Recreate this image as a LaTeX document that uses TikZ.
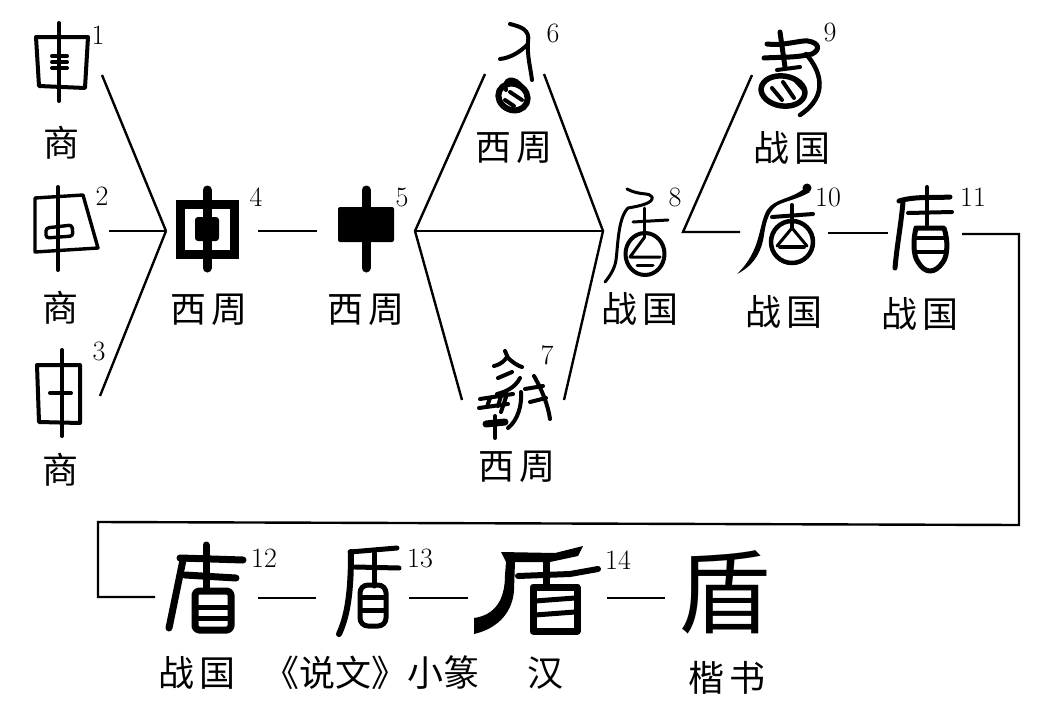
\documentclass[tikz,border=0pt]{standalone}
\usepackage{fontspec}
\setmainfont{Latin Modern Roman}
\newfontfamily\cjk{Noto Sans CJK SC}
\tikzset{
  conn/.style={line width=2.4pt},
  lab/.style={inner sep=0pt,font=\cjk\fontsize{36}{36}\selectfont},
  num/.style={inner sep=0pt,font=\fontsize{28}{28}\selectfont},
  gl/.style={line width=4pt,line cap=round,line join=round},
  gm/.style={line width=5pt,line cap=round,line join=round},
  gb/.style={line width=7pt,line cap=round,line join=round},
  gk/.style={line width=9pt,line cap=round,line join=miter}
}
\begin{document}
\begin{tikzpicture}[x=1pt,y=-1pt]
\useasboundingbox (0,0) rectangle (1042,715);

% connector ends
\coordinate (a1) at (102,75);
\coordinate (a2) at (109,231);
\coordinate (a3) at (100,396);
\coordinate (h1) at (166,231);
\coordinate (a4) at (258,231);
\coordinate (a5) at (317,231);
\coordinate (h2) at (415,231);
\coordinate (a6) at (485,74);
\coordinate (a7) at (462,400);
\coordinate (b6) at (544,74);
\coordinate (b7) at (564,400);
\coordinate (h3) at (603,231);
\coordinate (h4) at (683,232);
\coordinate (b9) at (752,75);
\coordinate (a10) at (740,232);
\coordinate (b10) at (828,233);
\coordinate (a11) at (888,233);
\coordinate (b11) at (962,234);
\coordinate (c1) at (1019,234);
\coordinate (c2) at (1019,525);
\coordinate (c3) at (98,522);
\coordinate (c4) at (98,597);
\coordinate (a12) at (155,597);
\coordinate (b12) at (258,598);
\coordinate (a13) at (316,598);
\coordinate (b13) at (409,598);
\coordinate (a14) at (468,598);
\coordinate (b14) at (607,598);
\coordinate (a15) at (665,598);

\draw[conn] (a1)--(h1);
\draw[conn] (a2)--(h1);
\draw[conn] (a3)--(h1);
\draw[conn] (a4)--(a5);
\draw[conn] (a6)--(h2)--(a7);
\draw[conn] (h2)--(h3);
\draw[conn] (b6)--(h3)--(b7);
\draw[conn] (b9)--(h4)--(a10);
\draw[conn] (b10)--(a11);
\draw[conn] (b11)--(c1)--(c2)--(c3)--(c4)--(a12);
\draw[conn] (b12)--(a13);
\draw[conn] (b13)--(a14);
\draw[conn] (b14)--(a15);

% glyphs 1-3
\draw[gl] (36,37)--(88,37)--(85,88)--(39,86)--cycle;
\draw[gl] (59,23)--(59,101);
\draw[gl] (52,56)--(67,56) (52,62)--(67,62) (52,68)--(67,68);
\draw[gl,line width=3.4pt] (35,198)--(83,195)--(98,248)--(35,252)--cycle;
\draw[gl] (58,187)--(58,270);
\draw[gl,line width=3.4pt,rounded corners=3pt] (46,228)--(72,225)--(73,236)--(46,238)--cycle;
\draw[gl] (37,365)--(80,365)--(80,423)--(39,422)--cycle;
\draw[gl] (62,350)--(62,436);
\draw[gl] (50,393)--(71,393);

% glyphs 4-5
\draw[gk] (180,204)--(234,204)--(234,254)--(180,254)--cycle;
\draw[gk] (207,190)--(207,268);
\fill[rounded corners=3pt] (195,217) rectangle (219,241);
\fill[rounded corners=2pt] (338,207) rectangle (394,242);
\draw[gk] (366,190)--(366,268);

% glyph 6
\draw[gl] (510,24) .. controls (522,27) and (530,30) .. (528,42) .. controls (527,55) and (530,65) .. (532,80);
\draw[gl] (500,59) .. controls (510,58) and (520,52) .. (527,45);
\draw[gl,line width=6pt,rotate around={-25:(513,97)}] (513,97) ellipse (15 and 13);
\draw[gl] (506,90) .. controls (502,78) and (515,75) .. (523,88);
\draw[gl] (505,100)--(514,106) (510,92)--(522,100);

% glyph 7
\draw[gl] (505,351)--(508,358);
\draw[gl] (494,366) .. controls (502,364) and (505,360) .. (507,357) .. controls (512,362) and (518,366) .. (522,367);
\draw[gl] (498,378)--(512,372);
\draw[gl] (520,378) .. controls (515,388) and (505,392) .. (497,394);
\draw[gl] (480,399)--(513,394);
\draw[gl] (479,408)--(508,404);
\draw[gl] (490,398)--(487,407) (501,396)--(498,406);
\draw[gl] (507,394)--(501,412);
\draw[gl] (521,392) .. controls (522,405) and (518,420) .. (508,428);
\draw[gl] (534,376) .. controls (542,390) and (548,405) .. (550,419);
\draw[gl] (525,389)--(543,386) (530,402)--(546,398);
\draw[gb] (486,424)--(505,422);
\draw[gl] (495,416)--(495,438);

% glyph 8
\draw[gl,line width=3pt] (627,189) .. controls (640,196) and (650,192) .. (652,197) .. controls (654,203) and (640,206) .. (628,208) .. controls (618,218) and (618,245) .. (616,260) .. controls (615,268) and (610,276) .. (605,282);
\draw[gl,line width=3pt] (633,222)--(668,220);
\draw[gl,line width=3pt] (644,208)--(644,238);
\draw[gl] (645,254) ellipse (19.5 and 21);
\draw[gl,line width=3pt] (644,238)--(630,257)--(660,257);
\draw[gl,line width=3pt] (637,265)--(653,265);

% glyph 9
\draw[gl,line width=5pt] (780,32)--(785,67);
\draw[gl,line width=5pt] (767,44) .. controls (785,46) and (800,40) .. (808,41) .. controls (820,43) and (820,50) .. (812,54) .. controls (795,58) and (780,57) .. (764,58);
\draw[gl] (777,70)--(800,67);
\draw[gl,line width=4.5pt] (806,54) .. controls (820,70) and (830,95) .. (800,115);
\draw[gl,line width=5.5pt,rotate around={-8:(783,91)}] (783,91) ellipse (22 and 15);
\draw[gl] (772,88)--(782,100) (783,82)--(794,98) (795,80)--(804,90);

% glyph 10
\fill (807,188) circle (4.5);
\fill (805,188) .. controls (790,200) and (775,198) .. (767,210) .. controls (758,225) and (762,250) .. (737,274) .. controls (755,265) and (762,250) .. (764,235) .. controls (766,220) and (770,208) .. (780,204) .. controls (790,200) and (800,198) .. (810,192) -- cycle;
\draw[gl] (772,217)--(813,214);
\draw[gl] (792,205)--(792,228);
\draw[gl,line width=4.5pt] (792,242) ellipse (21 and 21);
\draw[gl,line width=3pt] (792,228)--(777,246) (792,228)--(807,246);
\draw[gl] (780,247)--(804,247);

% glyph 11
\draw[gl] (927,187)--(927,225);
\draw[gm] (899,201) .. controls (915,196) and (935,198) .. (950,197);
\draw[gl] (908,213)--(952,212);
\draw[gm] (903,202) .. controls (901,225) and (897,245) .. (895,268);
\draw[gm] (916,228)--(944,228) .. controls (948,240) and (948,255) .. (943,262) .. controls (935,274) and (925,274) .. (918,262) .. controls (913,255) and (913,240) .. (916,228);
\draw[gl] (916,238)--(945,238);
\draw[gl] (916,252)--(945,252);

% glyph 12
\draw[gb] (206,545)--(206,590);
\draw[gb] (180,558)--(243,560);
\draw[gb] (185,575)--(236,578);
\draw[gb] (183,560)--(169,628);
\draw[gb,rounded corners=4pt] (195,591)--(231,591)--(231,630)--(195,630)--cycle;
\draw[gm] (197,607)--(230,607);
\draw[gm] (197,618)--(230,618);

% glyph 13
\draw[gm] (350,552)--(397,548);
\draw[gm] (355,567)--(399,568);
\draw[gm] (374,553)--(374,586);
\draw[gb,line width=6pt] (351,552) .. controls (351,590) and (348,615) .. (339,634);
\draw[gm,rounded corners=8pt] (360,585)--(386,585)--(386,626)--(360,626)--cycle;
\draw[gm] (361,597)--(385,597);
\draw[gm] (361,610)--(385,610);

% glyph 14
\fill (501,552)--(555,553)--(583,546)--(578,556)--(550,562)--(515,562)--(514,590) .. controls (513,610) and (500,628) .. (474,634)--(474,618) .. controls (495,615) and (505,600) .. (505,575) -- (506,562) --cycle;
\draw[gb,line width=6pt] (518,576)--(570,574)--(598,569);
\draw[gb] (546,558)--(546,585);
\draw[gb] (533,587)--(577,587)--(577,631)--(533,631)--cycle;
\draw[gm] (535,601)--(575,598);
\draw[gm] (535,615)--(575,612);

% glyph 15
\node[inner sep=0pt,font=\cjk\fontsize{92}{92}\selectfont] (g15) at (724,592) {盾};

% labels
\node[lab] (l1) at (61,143) {商};
\node[lab] (l2) at (60,308) {商};
\node[lab] (l3) at (60,470) {商};
\node[lab] (l4) at (209,310) {西\hspace{5pt}周};
\node[lab] (l5) at (366,310) {西\hspace{5pt}周};
\node[lab] (l6) at (514,148) {西\hspace{5pt}周};
\node[lab] (l7) at (517,467) {西\hspace{5pt}周};
\node[lab] (l8) at (640,309) {战\hspace{5pt}国};
\node[lab] (l9) at (792,148) {战\hspace{5pt}国};
\node[lab] (l10) at (784,312) {战\hspace{5pt}国};
\node[lab] (l11) at (920,314) {战\hspace{5pt}国};
\node[lab] (l12) at (197,673) {战\hspace{5pt}国};
\node[lab] (l13) at (371,673) {《说文》小篆};
\node[lab] (l14) at (545,673) {汉};
\node[lab] (l15) at (727,678) {楷\hspace{5pt}书};

% numbers
\node[num] (n1) at (98,35) {1};
\node[num] (n2) at (102,196) {2};
\node[num] (n3) at (99,351) {3};
\node[num] (n4) at (256,197) {4};
\node[num] (n5) at (402,197) {5};
\node[num] (n6) at (553,33) {6};
\node[num] (n7) at (547,355) {7};
\node[num] (n8) at (675,197) {8};
\node[num] (n9) at (830,32) {9};
\node[num] (n10) at (828,197) {10};
\node[num] (n11) at (973,197) {11};
\node[num] (n12) at (264,558) {12};
\node[num] (n13) at (420,558) {13};
\node[num] (n14) at (618,560) {14};

\end{tikzpicture}
\end{document}
